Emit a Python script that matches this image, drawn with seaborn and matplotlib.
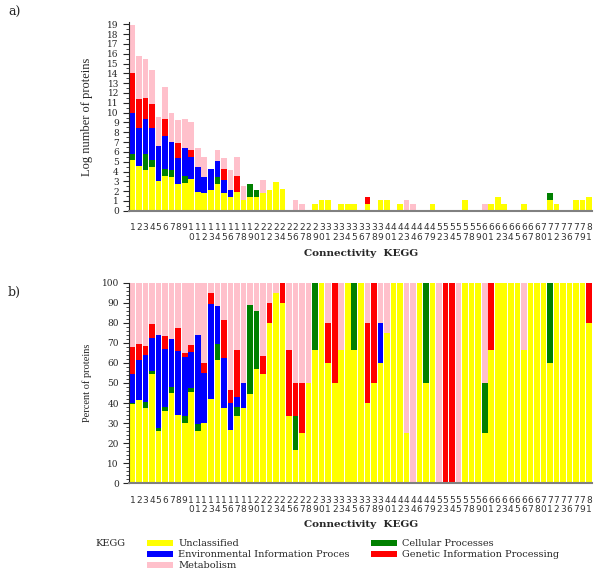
import numpy as np
import pandas as pd
import seaborn as sns
import matplotlib
matplotlib.use('Agg')
import matplotlib.pyplot as plt
from matplotlib.patches import Patch
from matplotlib.ticker import MultipleLocator

# connectivity values (x categories)
conn = list(range(1, 45)) + [46, 47, 49, 52, 53, 54, 55, 57, 58, 59] + \
    list(range(60, 69)) + [70, 71, 72, 73, 76, 77, 79, 81]

# number of proteins per KEGG class
unclassified = [170, 100, 62, 88, 20, 35, 32, 15, 17, 25, 7, 6, 8, 16, 6, 4, 7, 3, 4, 4,
                6, 8, 18, 9, 1, 1, 1, 1, 2, 3, 3, 1, 2, 2, 2, 1, 2, 1, 3, 3,
                1, 2, 1, 0, 1, 1, 2, 0, 0, 0, 0, 3, 1, 1, 1, 2, 4, 2, 1, 1,
                2, 1, 1, 1, 3, 2, 1, 1, 3, 3, 4]
cellular = [2, 0, 5, 2, 1, 2, 2, 0, 2, 1, 1, 0, 0, 2, 0, 0, 1, 0, 4, 2,
            0, 0, 0, 0, 0, 1, 0, 0, 1, 0, 0, 0, 0, 0, 1, 0, 0, 0, 0, 0,
            0, 0, 0, 0, 0, 1, 0, 0, 0, 0, 0, 0, 0, 0, 1, 0, 0, 0, 0, 0,
            0, 0, 0, 0, 2, 0, 0, 0, 0, 0, 0]
environmental = [62, 48, 39, 27, 35, 28, 17, 14, 17, 10, 12, 5, 9, 5, 4, 2, 1, 1, 0, 0,
                 0, 0, 0, 0, 0, 0, 0, 0, 0, 0, 0, 0, 0, 0, 0, 0, 0, 0, 1, 0,
                 0, 0, 0, 0, 0, 0, 0, 0, 0, 0, 0, 0, 0, 0, 0, 0, 0, 0, 0, 0,
                 0, 0, 0, 0, 0, 0, 0, 0, 0, 0, 0]
genetic = [57, 19, 8, 11, 0, 6, 0, 5, 1, 2, 0, 1, 1, 0, 3, 1, 5, 0, 0, 0,
           1, 1, 0, 1, 1, 1, 1, 0, 0, 0, 1, 1, 0, 0, 0, 0, 2, 1, 0, 0,
           0, 0, 0, 0, 0, 0, 0, 0, 1, 1, 0, 0, 0, 0, 0, 1, 0, 0, 0, 0,
           0, 0, 0, 0, 0, 0, 0, 0, 0, 0, 1]
metabolism = [138, 74, 52, 33, 20, 26, 20, 10, 20, 17, 7, 8, 1, 3, 3, 8, 7, 4, 1, 1,
              4, 1, 1, 0, 1, 3, 2, 1, 0, 0, 1, 0, 1, 0, 0, 0, 1, 0, 1, 1,
              0, 0, 3, 2, 0, 0, 0, 1, 0, 0, 1, 0, 0, 0, 2, 0, 0, 0, 0, 0,
              1, 0, 0, 0, 0, 0, 0, 0, 0, 0, 0]

classes = ['Unclassified', 'Cellular Processes', 'Environmental Information Proces',
           'Genetic Information Processing', 'Metabolism']
colors = ['#ffff00', '#008000', '#0000ff', '#ff0000', '#ffc0cb']

labels = [str(c) for c in conn]
df = pd.DataFrame({'conn': labels, classes[0]: unclassified, classes[1]: cellular,
                   classes[2]: environmental, classes[3]: genetic, classes[4]: metabolism})
counts = df[classes]
logs = np.log(counts.where(counts > 0, 1))
pct = counts.div(counts.sum(axis=1), axis=0) * 100

sns.set_style('ticks')
plt.rcParams['font.family'] = ['DejaVu Serif']

fig = plt.figure(figsize=(6, 5.73), dpi=100)
ax1 = fig.add_axes([129.3 / 600, 1 - 210.8 / 573, 463 / 600, 188.8 / 573])
ax2 = fig.add_axes([129.3 / 600, 1 - 483.3 / 573, 463 / 600, 200.6 / 573])


def stacked(ax, values):
    cum = values.cumsum(axis=1)
    for name, col in reversed(list(zip(classes, colors))):
        sns.barplot(x=df['conn'], y=cum[name], order=labels, color=col, width=0.86,
                    saturation=1, linewidth=0, errorbar=None, ax=ax)
    ax.set_xlim(-0.5, len(labels) - 0.5)
    ax.set_xticks(range(len(labels)))
    ax.set_xticklabels(['\n'.join(s) for s in labels], fontsize=6.5, linespacing=1.05,
                       family='DejaVu Sans', color='#333333')
    ax.tick_params(axis='x', length=0, pad=9)
    ax.tick_params(axis='y', which='major', length=4, width=0.8, labelsize=6.5, direction='out')
    ax.tick_params(axis='y', which='minor', length=2, width=0.6, direction='out')
    for s in ['top', 'right']:
        ax.spines[s].set_visible(False)
    ax.spines['bottom'].set_color('#808080')
    ax.spines['bottom'].set_linewidth(1.5)
    ax.spines['left'].set_linewidth(0.8)


stacked(ax1, logs)
ax1.set_ylim(0, 19.23)
ax1.yaxis.set_major_locator(MultipleLocator(1))
ax1.yaxis.set_minor_locator(MultipleLocator(0.5))
ax1.set_ylabel('Log number of proteins', fontsize=9, family='Liberation Serif')
ax1.set_xlabel('Connectivity  KEGG', fontsize=7.5, fontweight='bold')
ax1.yaxis.set_label_coords(-0.078, 0.5)
ax1.xaxis.set_label_coords(0.5, -0.2)

stacked(ax2, pct)
ax2.set_ylim(0, 100)
ax2.yaxis.set_major_locator(MultipleLocator(10))
ax2.yaxis.set_minor_locator(MultipleLocator(2))
ax2.set_ylabel('Percent of proteins', fontsize=7.5, family='Liberation Serif')
ax2.set_xlabel('Connectivity  KEGG', fontsize=7.5, fontweight='bold')
ax2.yaxis.set_label_coords(-0.08, 0.5)
ax2.xaxis.set_label_coords(0.5, -0.185)

fig.text(8 / 600, 1 - 12 / 573, 'a)', fontsize=9, va='center')
fig.text(8 / 600, 1 - 292 / 573, 'b)', fontsize=9, va='center')

# legend, filled column-wise
order = [0, 2, 4, 1, 3]
handles = [Patch(facecolor=colors[i], edgecolor='none', label=classes[i]) for i in order]
fig.text(95 / 600, 1 - 543 / 573, 'KEGG', fontsize=7, va='center')
fig.legend(handles=handles, ncol=2, loc='upper left', bbox_to_anchor=(147 / 600, 1 - 539.5 / 573),
           frameon=False, fontsize=7, handlelength=2.7, handleheight=0.5, handletextpad=0.5,
           labelspacing=0.2, columnspacing=2.2, borderpad=0, borderaxespad=0)

fig.savefig('out.png', dpi=100)
